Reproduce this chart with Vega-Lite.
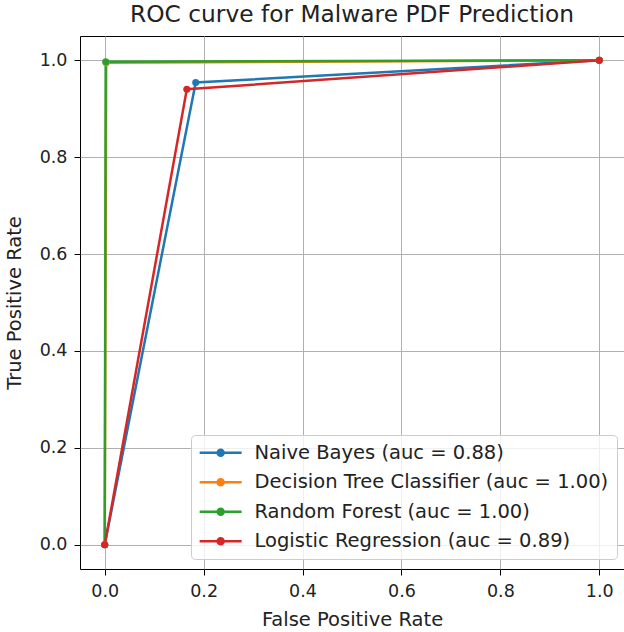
{
  "$schema": "https://vega.github.io/schema/vega-lite/v6.json",
  "autosize": {"type": "none"},
  "padding": {"left": 80, "top": 36, "right": 0, "bottom": 63},
  "width": 544,
  "height": 533,
  "background": "white",
  "config": {
    "font": "DejaVu Sans",
    "view": {"stroke": "black", "strokeWidth": 1},
    "axis": {
      "gridColor": "#b0b0b0", "gridWidth": 1, "gridOpacity": 1,
      "domain": false, "tickColor": "black", "tickSize": 6, "tickWidth": 1,
      "labelFont": "DejaVu Sans", "labelFontSize": 17.5, "labelColor": "#222222", "labelPadding": 7,
      "titleFont": "DejaVu Sans", "titleFontSize": 19.5, "titleFontWeight": "normal", "titleColor": "#222222"
    }
  },
  "title": {"text": "ROC curve for Malware PDF Prediction", "font": "DejaVu Sans", "fontSize": 23.3, "fontWeight": "normal", "color": "#222222", "anchor": "middle", "offset": 9},
  "data": {"values": [
    {"model": "Naive Bayes (auc = 0.88)", "fpr": 0.0, "tpr": 0.0, "i": 0},
    {"model": "Naive Bayes (auc = 0.88)", "fpr": 0.184, "tpr": 0.954, "i": 1},
    {"model": "Naive Bayes (auc = 0.88)", "fpr": 1.0, "tpr": 1.0, "i": 2},
    {"model": "Decision Tree Classifier (auc = 1.00)", "fpr": 0.0, "tpr": 0.0, "i": 0},
    {"model": "Decision Tree Classifier (auc = 1.00)", "fpr": 0.003, "tpr": 0.995, "i": 1},
    {"model": "Decision Tree Classifier (auc = 1.00)", "fpr": 1.0, "tpr": 1.0, "i": 2},
    {"model": "Random Forest (auc = 1.00)", "fpr": 0.0, "tpr": 0.0, "i": 0},
    {"model": "Random Forest (auc = 1.00)", "fpr": 0.002, "tpr": 0.997, "i": 1},
    {"model": "Random Forest (auc = 1.00)", "fpr": 1.0, "tpr": 1.0, "i": 2},
    {"model": "Logistic Regression (auc = 0.89)", "fpr": 0.0, "tpr": 0.0, "i": 0},
    {"model": "Logistic Regression (auc = 0.89)", "fpr": 0.166, "tpr": 0.940, "i": 1},
    {"model": "Logistic Regression (auc = 0.89)", "fpr": 1.0, "tpr": 1.0, "i": 2}
  ]},
  "encoding": {
    "x": {"field": "fpr", "type": "quantitative", "title": "False Positive Rate",
      "scale": {"domain": [-0.05, 1.05], "nice": false, "zero": false},
      "axis": {"values": [0, 0.2, 0.4, 0.6, 0.8, 1.0], "format": ".1f", "titlePadding": 11}},
    "y": {"field": "tpr", "type": "quantitative", "title": "True Positive Rate",
      "scale": {"domain": [-0.05, 1.05], "nice": false, "zero": false},
      "axis": {"values": [0, 0.2, 0.4, 0.6, 0.8, 1.0], "format": ".1f", "titlePadding": 15}},
    "color": {"field": "model", "type": "nominal", "sort": null,
      "scale": {
        "domain": ["Naive Bayes (auc = 0.88)", "Decision Tree Classifier (auc = 1.00)", "Random Forest (auc = 1.00)", "Logistic Regression (auc = 0.89)"],
        "range": ["#1f77b4", "#ff7f0e", "#2ca02c", "#d62728"]},
      "legend": {
        "title": null, "orient": "none", "legendX": 111, "legendY": 399,
        "labelFontSize": 19.5, "labelFont": "DejaVu Sans", "labelColor": "#222222",
        "symbolType": "M-1.3,0L4.7,0M1.27,0A0.43,0.43 0 1,1 2.13,0A0.43,0.43 0 1,1 1.27,0Z",
        "symbolSize": 196, "symbolStrokeWidth": 2.5, "symbolOpacity": 1,
        "labelOffset": 36, "rowPadding": 8.5,
        "padding": 8, "cornerRadius": 4, "strokeColor": "#cccccc", "fillColor": "rgba(255,255,255,0.8)", "labelLimit": 500
      }}
  },
  "layer": [
    {"mark": {"type": "line", "strokeWidth": 2.5}, "encoding": {"order": {"field": "i"}}},
    {"mark": {"type": "point", "filled": true, "size": 50, "opacity": 1}}
  ]
}
